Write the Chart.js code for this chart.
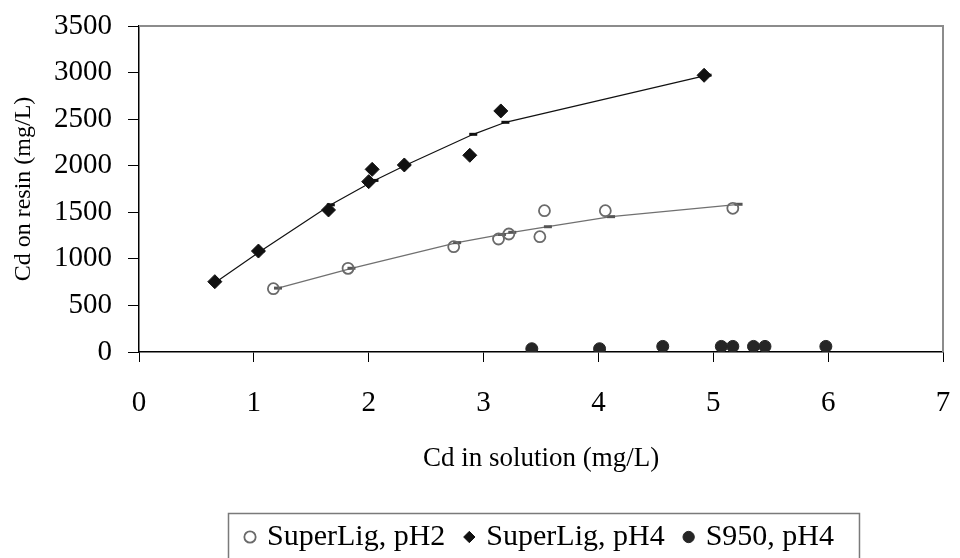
<!DOCTYPE html>
<html>
<head>
<meta charset="utf-8">
<script src="https://cdn.jsdelivr.net/npm/chart.js@4.4.1/dist/chart.umd.min.js"></script>
<style>
  html, body { margin: 0; padding: 0; background: #fff; }
  #wrap { width: 960px; height: 558px; }
</style>
</head>
<body>
<div id="wrap"><canvas id="c" width="960" height="558"></canvas></div>
<script>
// ---- Data ----
const xTickLabels = [0, 1, 2, 3, 4, 5, 6, 7];
const yTickLabels = [0, 500, 1000, 1500, 2000, 2500, 3000, 3500];

const seriesNames = ["SuperLig, pH2", "SuperLig, pH4", "S950, pH4"];

const ph2X = [1.17, 1.82, 2.74, 3.13, 3.22, 3.49, 3.53, 4.06, 5.17];
const ph2Y = [680, 898, 1131, 1213, 1267, 1238, 1517, 1517, 1543];

const ph4X = [0.66, 1.04, 1.65, 2.00, 2.03, 2.31, 2.88, 3.15, 4.92];
const ph4Y = [755, 1084, 1525, 1829, 1961, 2008, 2112, 2588, 2971];

const s950X = [3.42, 4.01, 4.56, 5.07, 5.17, 5.35, 5.45, 5.98];
const s950Y = [35, 35, 60, 60, 60, 60, 60, 60];

// fitted (model) curves
const fitPh2X = [1.21, 1.85, 2.77, 3.16, 3.25, 3.56, 4.11, 5.22];
const fitPh2Y = [686, 899, 1174, 1262, 1285, 1345, 1453, 1586];

const fitPh4X = [0.68, 1.06, 1.67, 2.05, 2.33, 2.91, 3.19, 4.95];
const fitPh4Y = [760, 1085, 1580, 1842, 2010, 2337, 2466, 2972];

const pts = (xs, ys) => xs.map((x, i) => ({ x: x, y: ys[i] }));

const FONT = "'Liberation Serif', 'Times New Roman', serif";
Chart.defaults.color = '#000';
Chart.defaults.font.family = FONT;

const LEGEND_PAD = 22;

const plotBorder = {
  id: 'plotBorder',
  beforeDatasetsDraw(chart) {
    const { ctx, chartArea: a } = chart;
    ctx.save();
    ctx.strokeStyle = '#8c8c8c';
    ctx.lineWidth = 2;
    ctx.beginPath();
    ctx.moveTo(a.left, a.top);
    ctx.lineTo(a.right, a.top);
    ctx.lineTo(a.right, a.bottom);
    ctx.stroke();
    ctx.restore();
  },
  afterDraw(chart) {
    const lg = chart.legend;
    if (!lg || !lg.legendHitBoxes || !lg.legendHitBoxes.length) return;
    const hb = lg.legendHitBoxes;
    const l = Math.min(...hb.map(h => h.left)) - 20;
    const r = Math.max(...hb.map(h => h.left + h.width)) + 25;
    const t = lg.top + LEGEND_PAD - 9;
    const ctx = chart.ctx;
    ctx.save();
    ctx.strokeStyle = '#7a7a7a';
    ctx.lineWidth = 1.5;
    ctx.strokeRect(Math.round(l) + 0.5, Math.round(t) + 0.5, r - l, 600);
    ctx.restore();
  }
};

new Chart(document.getElementById('c'), {
  type: 'scatter',
  data: {
    datasets: [
      {
        label: seriesNames[0],
        data: pts(ph2X, ph2Y),
        pointStyle: 'circle',
        pointRadius: 5.5,
        pointHoverRadius: 5.5,
        borderColor: '#6a6a6a',
        backgroundColor: 'rgba(255,255,255,0)',
        borderWidth: 1.8,
        showLine: false
      },
      {
        label: seriesNames[1],
        data: pts(ph4X, ph4Y),
        pointStyle: 'rectRot',
        pointRadius: 7,
        pointHoverRadius: 7,
        borderColor: '#111',
        backgroundColor: '#111',
        borderWidth: 1,
        showLine: false
      },
      {
        label: seriesNames[2],
        data: pts(s950X, s950Y),
        pointStyle: 'circle',
        pointRadius: 6,
        pointHoverRadius: 6,
        borderColor: '#262626',
        backgroundColor: '#262626',
        borderWidth: 1,
        showLine: false
      },
      {
        label: 'fit pH2',
        data: pts(fitPh2X, fitPh2Y),
        showLine: true,
        borderColor: '#707070',
        borderWidth: 1.3,
        pointStyle: 'line',
        pointRadius: 4,
        pointHoverRadius: 4,
        pointBorderColor: '#555',
        pointBorderWidth: 3,
        backgroundColor: '#555'
      },
      {
        label: 'fit pH4',
        data: pts(fitPh4X, fitPh4Y),
        showLine: true,
        borderColor: '#111',
        borderWidth: 1.2,
        pointStyle: 'line',
        pointRadius: 4,
        pointHoverRadius: 4,
        pointBorderColor: '#111',
        pointBorderWidth: 3,
        backgroundColor: '#111'
      }
    ]
  },
  options: {
    responsive: false,
    animation: false,
    events: [],
    layout: { padding: { left: 0, top: 26, right: 17, bottom: -4 } },
    plugins: {
      tooltip: { enabled: false },
      legend: {
        position: 'bottom',
        fullSize: false,
        labels: {
          filter: (item) => item.datasetIndex < 3,
          usePointStyle: true,
          boxWidth: 4,
          boxHeight: 8,
          padding: LEGEND_PAD,
          color: '#000',
          font: { family: FONT, size: 30 }
        }
      }
    },
    scales: {
      x: {
        type: 'linear',
        min: 0,
        max: 7,
        afterBuildTicks: (s) => { s.ticks = xTickLabels.map(v => ({ value: v })); },
        ticks: { stepSize: 1, padding: 24, color: '#000', font: { family: FONT, size: 29 },
                 callback: (v) => String(v) },
        grid: { drawOnChartArea: false, drawTicks: true, tickLength: 10, color: '#000', lineWidth: 1 },
        border: { display: true, color: '#000', width: 1.5 },
        title: {
          display: true,
          text: 'Cd in solution (mg/L)',
          color: '#000',
          font: { family: FONT, size: 27 },
          padding: { top: 0, bottom: 25 }
        },
        afterFit: (s) => { s.height = 148; s.paddingLeft = 0; s.paddingRight = 0; }
      },
      y: {
        type: 'linear',
        min: 0,
        max: 3500,
        afterBuildTicks: (s) => { s.ticks = yTickLabels.map(v => ({ value: v })); },
        ticks: { stepSize: 500, padding: 16, color: '#000', font: { family: FONT, size: 29 },
                 callback: (v) => String(v) },
        grid: { drawOnChartArea: false, drawTicks: true, tickLength: 11, color: '#000', lineWidth: 1 },
        border: { display: true, color: '#000', width: 1.5 },
        title: {
          display: true,
          text: 'Cd on resin (mg/L)',
          color: '#000',
          font: { family: FONT, size: 24 },
          padding: { top: 9, bottom: 0 }
        },
        afterFit: (s) => { s.width = 139; s.paddingTop = 0; s.paddingBottom = 0; }
      }
    }
  },
  plugins: [plotBorder]
});
</script>
</body>
</html>
